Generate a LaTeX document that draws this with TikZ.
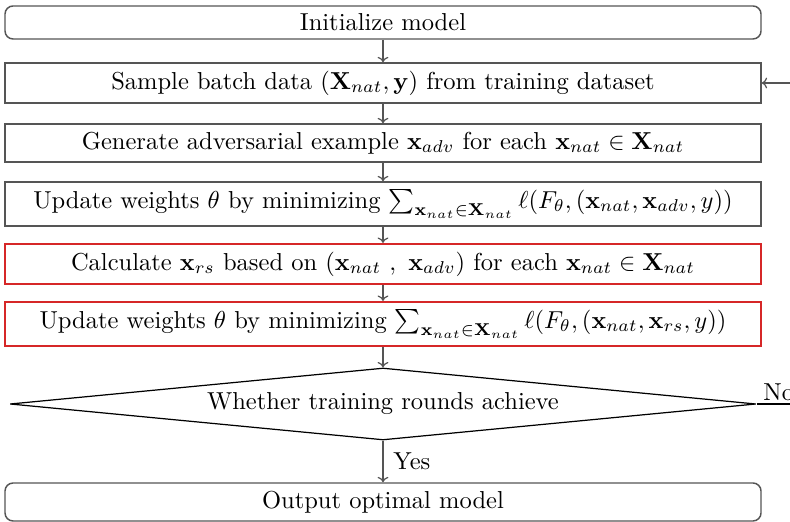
\documentclass[tikz,border=0pt]{standalone}
\usetikzlibrary{shapes.geometric,arrows.meta}
\definecolor{framegray}{RGB}{85,85,85}
\definecolor{markred}{RGB}{214,39,40}
% one drawing unit, in pt
\newcommand{\unitpt}{0.408}
\begin{document}
\begin{tikzpicture}[x=\unitpt pt, y=-\unitpt pt,
  stagebox/.style={draw=framegray, line width=0.6pt, rectangle, inner sep=0pt,
    minimum width=756*\unitpt pt},
  endbox/.style={stagebox, rounded corners=8*\unitpt pt},
  redbox/.style={stagebox, draw=markred, line width=0.9pt},
  testbox/.style={draw=black, line width=0.5pt, diamond, aspect=10.4, inner sep=0pt,
    minimum width=746*\unitpt pt, minimum height=72*\unitpt pt},
  flow/.style={draw=framegray, line width=0.5pt, -{To[length=2.2pt,width=4.4pt]}},
  plain/.style={draw=black, line width=0.5pt}]
\useasboundingbox (0,0) rectangle (790,522);
\clip (0,0) rectangle (790,522);

\node[endbox, minimum height=33*\unitpt pt] (init) at (383,22.5) {Initialize model};
\node[stagebox, minimum height=40*\unitpt pt] (sample) at (383,83)
  {Sample batch data $(\mathbf{X}_{nat}, \mathbf{y})$ from training dataset};
\node[stagebox, minimum height=38*\unitpt pt] (gen) at (383,143)
  {Generate adversarial example $\mathbf{x}_{adv}$ for each $\mathbf{x}_{nat} \in \mathbf{X}_{nat}$};
\node[stagebox, minimum height=44*\unitpt pt] (upd) at (383,204)
  {Update weights $\theta$ by minimizing $\sum_{\mathbf{x}_{nat}\in\mathbf{X}_{nat}} \ell(F_{\theta}, (\mathbf{x}_{nat}, \mathbf{x}_{adv}, y))$};
\node[redbox, minimum height=40*\unitpt pt] (calc) at (383,264)
  {Calculate $\mathbf{x}_{rs}$ based on $(\mathbf{x}_{nat}\ ,\ \mathbf{x}_{adv})$ for each $\mathbf{x}_{nat} \in \mathbf{X}_{nat}$};
\node[redbox, minimum height=44*\unitpt pt] (updrs) at (383,324)
  {Update weights $\theta$ by minimizing $\sum_{\mathbf{x}_{nat}\in\mathbf{X}_{nat}} \ell(F_{\theta}, (\mathbf{x}_{nat}, \mathbf{x}_{rs}, y))$};
\node[testbox] (rounds) at (383,404) {Whether training rounds achieve};
\node[endbox, minimum height=38*\unitpt pt] (out) at (383,502) {Output optimal model};

% main flow
\draw[flow] (init) -- (sample);
\draw[flow] (sample) -- (gen);
\draw[flow] (gen) -- (upd);
\draw[flow] (upd) -- (calc);
\draw[flow] (calc) -- (updrs);
\draw[flow] (updrs) -- (rounds);
\draw[flow] (rounds) -- node[right, inner sep=4pt] (yes) {Yes} (out);

% loop back for another round
\coordinate (back) at (800,404);
\draw[plain] (rounds.east) -- node[pos=0.2, above right, inner sep=1pt, xshift=-2pt] (no) {No} (back);
\draw[flow] (back) |- (sample.east);
\end{tikzpicture}
\end{document}
